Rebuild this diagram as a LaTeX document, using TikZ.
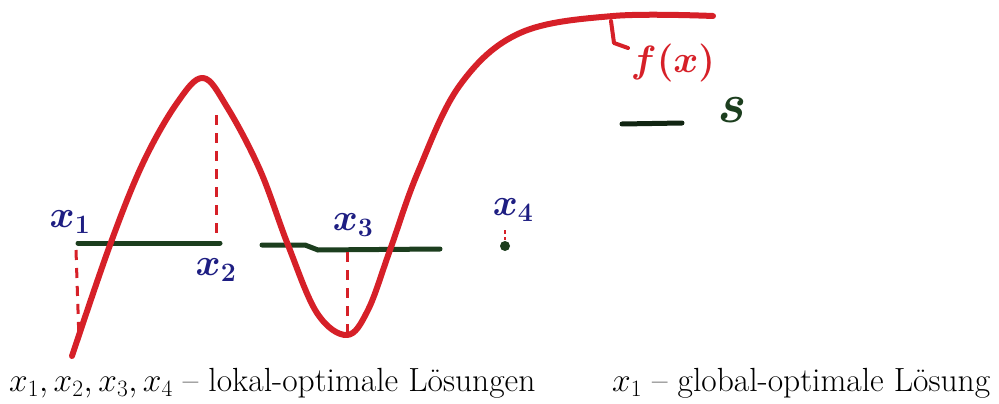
\RequirePackage{fix-cm}
\documentclass[tikz,border=0pt]{standalone}
\usepackage{amsmath}
\definecolor{penred}{RGB}{214,32,40}
\definecolor{pengreen}{RGB}{28,62,30}
\definecolor{penblue}{RGB}{30,30,130}
\tikzset{
  fcurve/.style={penred,line width=6pt,line cap=round,line join=round},
  sline/.style={pengreen,line width=5pt,line cap=round},
  drop/.style={penred,line width=3pt,dash pattern=on 10pt off 8pt},
  lbl/.style={text=penblue,font=\fontsize{38}{42}\selectfont\boldmath},
  caption/.style={font=\fontsize{33.5}{40}\selectfont,anchor=base west,inner sep=0pt}
}
\begin{document}
\begin{tikzpicture}[x=1pt,y=-1pt]
\useasboundingbox (0,0) rectangle (999,404);
% feasible set S
\draw[sline] (78,243) -- (220,243);
\draw[sline] (262,245) -- (305,245) -- (318,250) -- (440,249);
\fill[pengreen] (505,246) circle (5pt);
% drop lines
\draw[drop] (76,250) -- (79,340);
\draw[drop] (216,115) -- (216,240);
\draw[drop] (347,252) -- (347,335);
\draw[drop, dash pattern=on 4pt off 3pt, line width=2pt] (505,230) -- (505,240);
% f(x)
\draw[fcurve] plot[smooth, tension=0.6] coordinates {
 (72,356) (110,245) (143,163) (177,103) (203,78) (227,107) (260,170)
 (288,245) (317,313) (347,335) (368,310) (390,250) (418,172) (460,85)
 (520,33) (613,16) (713,16)};
% labels
\node[lbl] (x1) at (70,222) {$x_1$};
\node[lbl] (x2) at (216,270) {$x_2$};
\node[lbl] (x3) at (353,225) {$x_3$};
\node[lbl] (x4) at (513,210) {$x_4$};
\draw[penred,line width=4pt,line cap=round,line join=round] (611,21) -- (614,43) -- (628,48);
\node[text=penred,font=\fontsize{38}{42}\selectfont\boldmath] (fx) at (673,63) {$f(x)$};
\draw[pengreen!60!black,line width=5pt,line cap=round] (622,124) -- (682,123);
\node[text=pengreen,font=\fontsize{56}{60}\selectfont\bfseries\itshape] (s) at (730,110) {s};
% captions
\node[caption] (c1) at (9,391) {$x_1, x_2, x_3, x_4$ -- lokal-optimale Lösungen};
\node[caption] (c2) at (612,391) {$x_1$ -- global-optimale Lösung};
\end{tikzpicture}
\end{document}
